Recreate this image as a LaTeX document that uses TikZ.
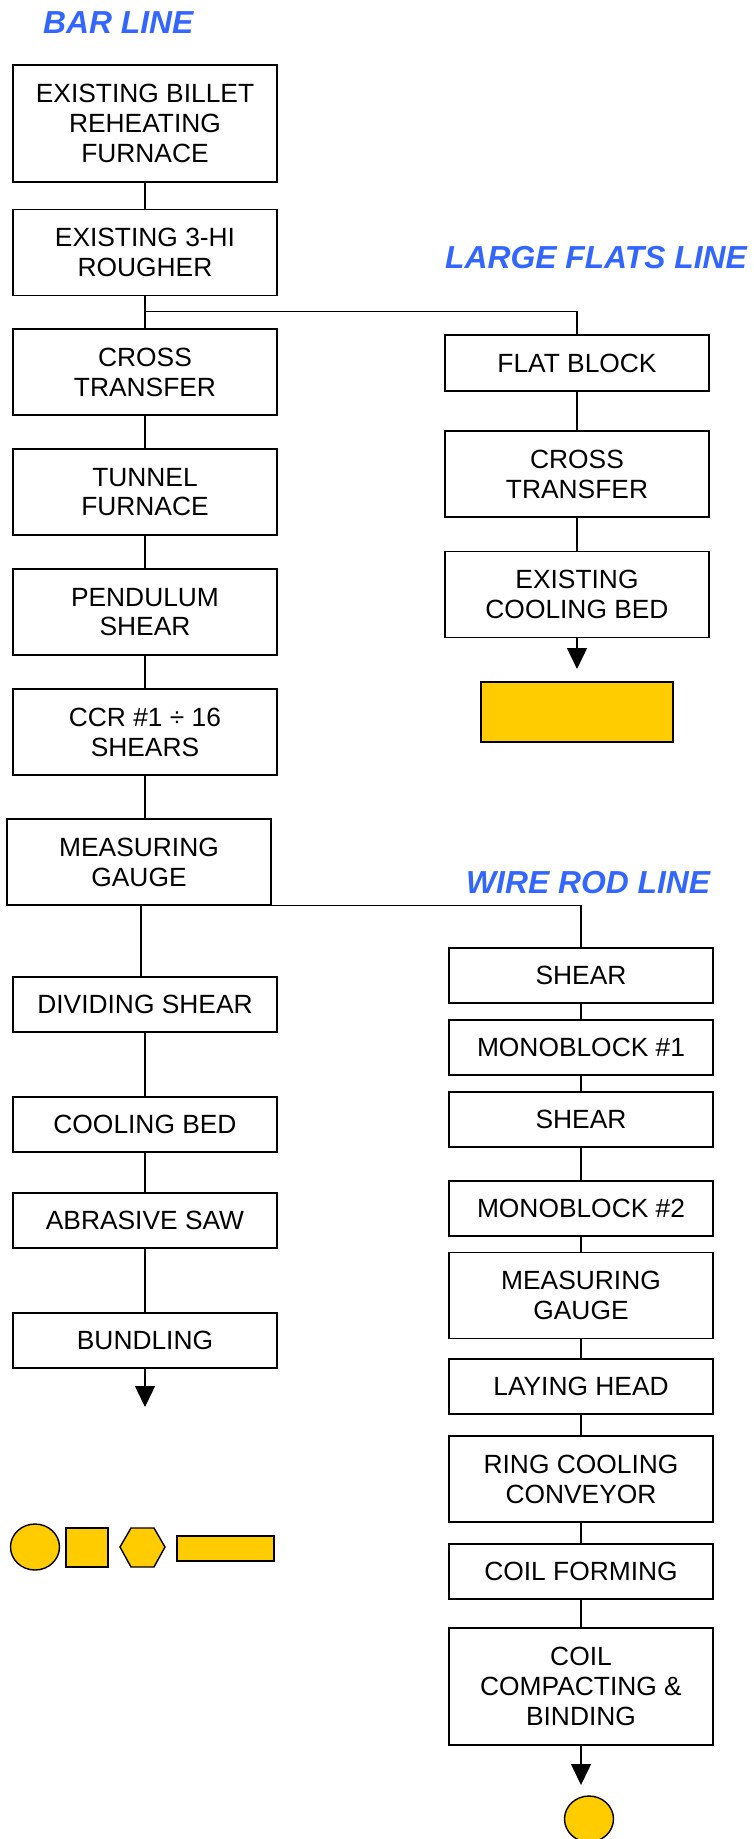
\documentclass[tikz,border=0pt]{standalone}
\usepackage{fontspec}
\setmainfont{Liberation Sans}
\usepackage{xcolor}
\usepackage{tikz}
\usetikzlibrary{arrows.meta,shapes.geometric}

\definecolor{lineblue}{RGB}{51,102,255}
\definecolor{unityellow}{RGB}{255,204,0}

\begin{document}
\begin{tikzpicture}[
	box/.style={draw,line width=0.8pt,align=center,inner sep=0pt,minimum width=5.28cm,font=\fontsize{15}{17}\selectfont},
	onel/.style={box,minimum height=1.1cm},
	twol/.style={box,minimum height=1.72cm},
	threel/.style={box,minimum height=2.34cm},
	head/.style={anchor=base west,text=lineblue,font=\fontsize{18.1}{20}\selectfont\bfseries\itshape},
	unit/.style={draw,line width=0.8pt,fill=unityellow,inner sep=0pt},
	arr/.style={line width=0.8pt,-{Triangle[length=0.42cm,width=0.4cm]}},
	link/.style={line width=0.8pt}
]
	\useasboundingbox (0,0) rectangle (15.08,-36.78);

	\node[head] (hbar) at (0.74,-0.68) {BAR LINE};
	\node[head] (hflats) at (8.78,-5.36) {LARGE FLATS LINE};
	\node[head] (hwire) at (9.2,-17.86) {WIRE ROD LINE};

	\node[threel] (b1) at (2.9,-2.47) {EXISTING BILLET\\REHEATING\\FURNACE};
	\node[twol] (b2) at (2.9,-5.05) {EXISTING 3-HI\\ROUGHER};
	\node[twol] (b3) at (2.9,-7.44) {CROSS\\TRANSFER};
	\node[twol] (b4) at (2.9,-9.84) {TUNNEL\\FURNACE};
	\node[twol] (b5) at (2.9,-12.24) {PENDULUM\\SHEAR};
	\node[twol] (b6) at (2.9,-14.64) {CCR \#1 ÷ 16\\SHEARS};
	\node[twol] (gauge) at (2.78,-17.24) {MEASURING\\GAUGE};
	\node[onel] (b8) at (2.9,-20.09) {DIVIDING SHEAR};
	\node[onel] (b9) at (2.9,-22.49) {COOLING BED};
	\node[onel] (b10) at (2.9,-24.41) {ABRASIVE SAW};
	\node[onel] (b11) at (2.9,-26.81) {BUNDLING};
	\coordinate (bend) at (2.9,-28.14);

	\node[onel,minimum height=1.12cm] (f1) at (11.54,-7.26) {FLAT BLOCK};
	\node[twol] (f2) at (11.54,-9.48) {CROSS\\TRANSFER};
	\node[twol] (f3) at (11.54,-11.89) {EXISTING\\COOLING BED};
	\coordinate (fend) at (11.54,-13.38);
	\node[unit,minimum width=3.84cm,minimum height=1.2cm] (fbar) at (11.54,-14.24) {};

	\node[onel] (w1) at (11.62,-19.51) {SHEAR};
	\node[onel] (w2) at (11.62,-20.95) {MONOBLOCK \#1};
	\node[onel] (w3) at (11.62,-22.39) {SHEAR};
	\node[onel] (w4) at (11.62,-24.17) {MONOBLOCK \#2};
	\node[twol] (w5) at (11.62,-25.91) {MEASURING\\GAUGE};
	\node[onel] (w6) at (11.62,-27.73) {LAYING HEAD};
	\node[twol] (w7) at (11.62,-29.58) {RING COOLING\\CONVEYOR};
	\node[onel] (w8) at (11.62,-31.43) {COIL FORMING};
	\node[threel] (w9) at (11.62,-33.73) {COIL\\COMPACTING \&\\BINDING};
	\coordinate (wend) at (11.62,-35.7);
	\node[unit,ellipse,minimum width=0.98cm,minimum height=0.92cm] (coil) at (11.78,-36.38) {};

	\node[unit,ellipse,minimum width=0.98cm,minimum height=0.92cm] (kcirc) at (0.7,-30.94) {};
	\node[unit,minimum width=0.84cm,minimum height=0.78cm] (ksq) at (1.74,-30.95) {};
	\draw[unit] (2.4,-30.94) -- (2.62,-30.56) -- (3.08,-30.56) -- (3.3,-30.94) -- (3.08,-31.34) -- (2.62,-31.34) -- cycle;
	\node[unit,minimum width=1.94cm,minimum height=0.5cm] (kbar) at (4.51,-30.97) {};

	\draw[link] (b1) -- (b2);
	\draw[link] (b2) -- (b3);
	\draw[link] (b2.south) ++(0,-0.3) -| (f1.north);
	\draw[link] (b3) -- (b4);
	\draw[link] (b4) -- (b5);
	\draw[link] (b5) -- (b6);
	\draw[link] (b6.south) -- (b6.south |- gauge.north);
	\draw[link] ([xshift=0.04cm]gauge.south) -- ([xshift=0.04cm]gauge.south |- b8.north);
	\draw[link] (gauge.south) -| (w1.north);
	\draw[link] (b8) -- (b9);
	\draw[link] (b9) -- (b10);
	\draw[link] (b10) -- (b11);
	\draw[arr] (b11) -- (bend);

	\draw[link] (f1) -- (f2);
	\draw[link] (f2) -- (f3);
	\draw[arr] (f3) -- (fend);

	\draw[link] (w1) -- (w2);
	\draw[link] (w2) -- (w3);
	\draw[link] (w3) -- (w4);
	\draw[link] (w4) -- (w5);
	\draw[link] (w5) -- (w6);
	\draw[link] (w6) -- (w7);
	\draw[link] (w7) -- (w8);
	\draw[link] (w8) -- (w9);
	\draw[arr] (w9) -- (wend);
\end{tikzpicture}
\end{document}
